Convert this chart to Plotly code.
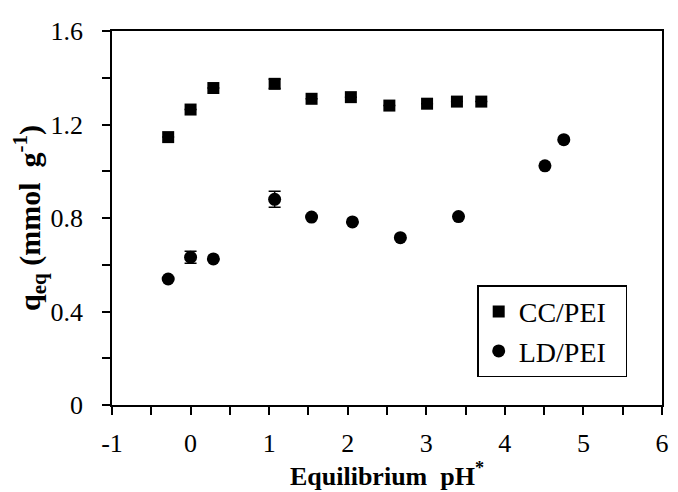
import plotly.graph_objects as go

# Data
cc_ph = [-0.285, 0.0, 0.29, 1.07, 1.54, 2.04, 2.53, 3.01, 3.39, 3.70]
cc_q = [1.146, 1.264, 1.356, 1.374, 1.310, 1.317, 1.281, 1.289, 1.298, 1.298]
cc_err = [0, 0, 0, 0.02, 0, 0, 0, 0, 0, 0]

ld_ph = [-0.285, 0.0, 0.29, 1.07, 1.54, 2.06, 2.67, 3.41, 4.51, 4.75]
ld_q = [0.539, 0.632, 0.625, 0.880, 0.804, 0.783, 0.716, 0.806, 1.023, 1.135]
ld_err = [0, 0.026, 0, 0.034, 0, 0, 0, 0, 0, 0]

x_tickvals = [-1, 0, 1, 2, 3, 4, 5, 6]
x_ticktext = ["-1", "0", "1", "2", "3", "4", "5", "6"]
y_tickvals = [0, 0.4, 0.8, 1.2, 1.6]
y_ticktext = ["0", "0.4", "0.8", "1.2", "1.6"]

FONT = "Liberation Serif"

fig = go.Figure()
fig.add_trace(go.Scatter(
    x=cc_ph, y=cc_q, mode="markers", name="CC/PEI\u00a0\u00a0",
    marker=dict(symbol="square", size=12, color="black"),
    error_y=dict(type="data", array=cc_err, visible=True, color="black",
                 thickness=1.5, width=6),
))
fig.add_trace(go.Scatter(
    x=ld_ph, y=ld_q, mode="markers", name="LD/PEI\u00a0\u00a0",
    marker=dict(symbol="circle", size=13, color="black"),
    error_y=dict(type="data", array=ld_err, visible=True, color="black",
                 thickness=1.5, width=6),
))

axis_common = dict(
    showline=True, linecolor="black", linewidth=1.5, mirror=True,
    showgrid=False, zeroline=False,
    ticks="outside", ticklen=8, tickwidth=1.5, tickcolor="black",
    tickfont=dict(family=FONT, size=26, color="black"),
)

fig.update_xaxes(
    range=[-1, 6], tickmode="array", tickvals=x_tickvals, ticktext=x_ticktext,
    ticklabelstandoff=6,
    minor=dict(dtick=0.5, tick0=-1, ticks="outside", ticklen=8, tickwidth=1.5,
               tickcolor="black", showgrid=False),
    title=dict(text="<b>Equilibrium&nbsp; pH<sup>*</sup></b>",
               font=dict(family=FONT, size=26, color="black"), standoff=2),
    **axis_common,
)
fig.update_yaxes(
    range=[0, 1.6], tickmode="array", tickvals=y_tickvals, ticktext=y_ticktext,
    ticklabelstandoff=14,
    minor=dict(dtick=0.2, tick0=0, ticks="outside", ticklen=8, tickwidth=1.5,
               tickcolor="black", showgrid=False),
    title=dict(text="<b>q<sub>eq</sub> (mmol&nbsp; g<sup>-1</sup>)</b>",
               font=dict(family=FONT, size=30, color="black"), standoff=0),
    **axis_common,
)

# The page body adds an 8 px offset; size the figure so the plot area lands
# where the reference has it inside the 678x492 window.
fig.update_layout(
    width=670, height=484,
    margin=dict(l=104, r=9, t=16, b=87),
    paper_bgcolor="white", plot_bgcolor="white",
    font=dict(family=FONT, color="black"),
    legend=dict(
        x=0.664, y=0.32, xanchor="left", yanchor="top",
        bordercolor="black", borderwidth=1.5, bgcolor="white",
        font=dict(family=FONT, size=28, color="black"),
        itemwidth=30,
    ),
)

fig.write_html("out.html")
